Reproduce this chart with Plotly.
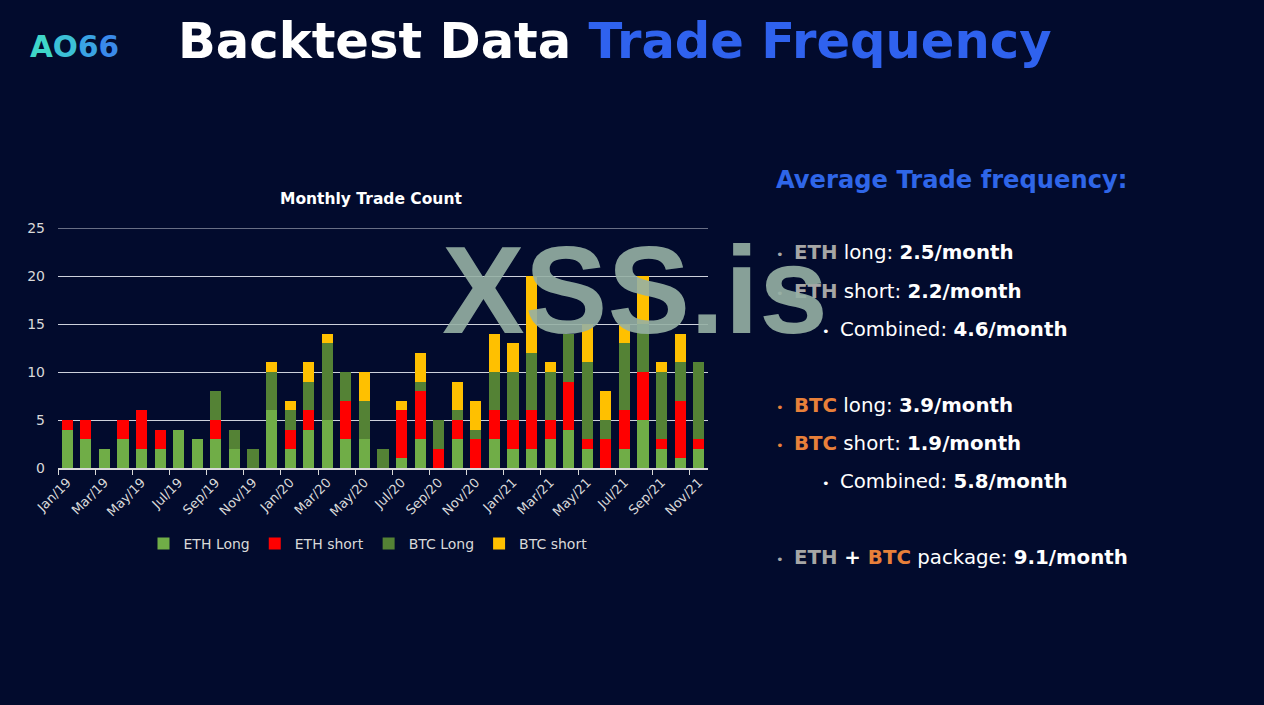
import plotly.graph_objects as go

W, H = 1264, 705

months = ["Jan/19", "Feb/19", "Mar/19", "Apr/19", "May/19", "Jun/19", "Jul/19", "Aug/19",
          "Sep/19", "Oct/19", "Nov/19", "Dec/19",
          "Jan/20", "Feb/20", "Mar/20", "Apr/20", "May/20", "Jun/20", "Jul/20", "Aug/20",
          "Sep/20", "Oct/20", "Nov/20", "Dec/20",
          "Jan/21", "Feb/21", "Mar/21", "Apr/21", "May/21", "Jun/21", "Jul/21", "Aug/21",
          "Sep/21", "Oct/21", "Nov/21"]

eth_long = [4, 3, 2, 3, 2, 2, 4, 3, 3, 2, 0, 6,
            2, 4, 5, 3, 3, 0, 1, 3, 0, 3, 0, 3,
            2, 2, 3, 4, 2, 0, 2, 5, 2, 1, 2]
eth_short = [1, 2, 0, 2, 4, 2, 0, 0, 2, 0, 0, 0,
             2, 2, 0, 4, 0, 0, 5, 5, 2, 2, 3, 3,
             3, 4, 2, 5, 1, 3, 4, 5, 1, 6, 1]
btc_long = [0, 0, 0, 0, 0, 0, 0, 0, 3, 2, 2, 4,
            2, 3, 8, 3, 4, 2, 0, 1, 3, 1, 1, 4,
            5, 6, 5, 5, 8, 2, 7, 5, 7, 4, 8]
btc_short = [0, 0, 0, 0, 0, 0, 0, 0, 0, 0, 0, 1,
             1, 2, 1, 0, 3, 0, 1, 3, 0, 3, 3, 4,
             3, 8, 1, 0, 4, 3, 2, 5, 1, 3, 0]

series_names = ["ETH Long", "ETH short", "BTC Long", "BTC short"]
series_values = [eth_long, eth_short, btc_long, btc_short]
series_colors = ["#70AD47", "#FF0000", "#548235", "#FFC000"]

y_ticks = [0, 5, 10, 15, 20, 25]
y_max = 25

BG = "#020b2d"
CHART_FONT = "DejaVu Sans"
UI_FONT = "DejaVu Sans"
GRID = "#cdd1dc"

fig = go.Figure()
for name, vals, col in zip(series_names, series_values, series_colors):
    fig.add_trace(go.Bar(x=months, y=vals, name=name, marker=dict(color=col, line=dict(width=0))))


def px(x):
    return x / W


def py(y):
    return 1 - y / H


fig.update_layout(
    width=W, height=H,
    margin=dict(l=0, r=0, t=0, b=0, pad=0, autoexpand=False),
    paper_bgcolor=BG, plot_bgcolor=BG,
    barmode="stack", bargap=0.4,
    showlegend=True,
    legend=dict(orientation="h", x=px(368), xanchor="center", y=py(544), yanchor="middle",
                font=dict(family=CHART_FONT, size=14, color="#d9d9d9"),
                bgcolor="rgba(0,0,0,0)", itemclick=False, traceorder="normal"),
    xaxis=dict(domain=[px(58), px(708)], type="category", dtick=2, automargin=False,
               tickson="boundaries", ticks="outside", ticklen=5, tickcolor="#d9d9d9", tickwidth=1,
               tickangle=-45, showgrid=False, showline=True, linecolor="#d9d9d9", linewidth=1.5,
               tickfont=dict(family=CHART_FONT, size=13, color="#d9d9d9"), fixedrange=True),
    yaxis=dict(domain=[py(468), py(228)], range=[0, y_max], tickvals=y_ticks, automargin=False,
               showgrid=True, gridcolor=GRID, gridwidth=1.2, zeroline=False, showline=False,
               ticks="", ticklabelstandoff=12,
               tickfont=dict(family=CHART_FONT, size=14, color="#d9d9d9"), fixedrange=True),
)

# top gridline (plotly skips the grid line that sits on the plot edge)
fig.add_shape(type="line", xref="x domain", yref="y", x0=0, x1=1, y0=y_max, y1=y_max,
              line=dict(color=GRID, width=1.2), layer="below")

ann = []
# chart title
ann.append(dict(x=px(371), y=py(199), xref="paper", yref="paper", showarrow=False,
                text="<b>Monthly Trade Count</b>", xanchor="center", yanchor="middle",
                font=dict(family=CHART_FONT, size=15.5, color="#ffffff")))

# logo
logo_cols = ["#3fd6c9", "#3cc0d6", "#3aa3e3", "#3a8aea"]
logo = "".join(f"<span style='color:{c}'>{ch}</span>" for ch, c in zip("AO66", logo_cols))
ann.append(dict(x=px(28), y=py(47), xref="paper", yref="paper", showarrow=False,
                text=f"<b>{logo}</b>", xanchor="left", yanchor="middle",
                font=dict(family=UI_FONT, size=29.5, color="#3fd6c9")))

# headline
ann.append(dict(x=px(176), y=py(41), xref="paper", yref="paper", showarrow=False,
                text="<b>Backtest Data <span style='color:#2f62ee'>Trade Frequency</span></b>",
                xanchor="left", yanchor="middle",
                font=dict(family=UI_FONT, size=49.6, color="#ffffff")))

# right panel
ann.append(dict(x=px(774), y=py(180), xref="paper", yref="paper", showarrow=False,
                text="<b>Average Trade frequency:</b>", xanchor="left", yanchor="middle",
                font=dict(family=UI_FONT, size=24.2, color="#2f66e8")))

GRAY = "#a6a6a6"
ORANGE = "#e8803a"


def bullet(col):
    return f"<span style='color:{col};font-size:13px'>•</span> &#8201;"


lines = [
    (774, 252, bullet(GRAY) + f"<b><span style='color:{GRAY}'>ETH</span></b> long: <b>2.5/month</b>"),
    (774, 291, bullet(GRAY) + f"<b><span style='color:{GRAY}'>ETH</span></b> short: <b>2.2/month</b>"),
    (820, 329, bullet("#ffffff") + "Combined: <b>4.6/month</b>"),
    (774, 405, bullet(ORANGE) + f"<b><span style='color:{ORANGE}'>BTC</span></b> long: <b>3.9/month</b>"),
    (774, 443, bullet(ORANGE) + f"<b><span style='color:{ORANGE}'>BTC</span></b> short: <b>1.9/month</b>"),
    (820, 481, bullet("#ffffff") + "Combined: <b>5.8/month</b>"),
    (774, 557, bullet(GRAY) + f"<b><span style='color:{GRAY}'>ETH</span> + <span style='color:{ORANGE}'>BTC</span></b> package: <b>9.1/month</b>"),
]
for x, y, t in lines:
    ann.append(dict(x=px(x), y=py(y), xref="paper", yref="paper", showarrow=False,
                    text=t, xanchor="left", yanchor="middle",
                    font=dict(family=UI_FONT, size=19.8, color="#ffffff")))

# watermark
ann.append(dict(x=px(635), y=py(290), xref="paper", yref="paper", showarrow=False,
                text="<b>XSS.is</b>", xanchor="center", yanchor="middle",
                font=dict(family="Liberation Sans", size=124, color="rgba(150,176,164,0.9)")))

fig.update_layout(annotations=ann)

fig.write_html("out.html", config={"displayModeBar": False},
               post_script="document.body.style.margin='0';document.body.style.overflow='hidden';")
